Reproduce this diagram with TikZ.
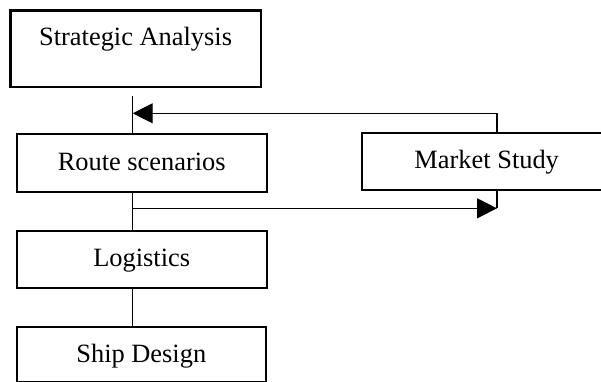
\documentclass[tikz,border=0pt]{standalone}
\usepackage{fontspec}
\setmainfont{Liberation Serif}
\usetikzlibrary{arrows.meta}

\begin{document}
\begin{tikzpicture}[x=1bp, y=-1bp,
  box/.style={draw, line width=2.2bp, rectangle, inner sep=0pt,
    minimum width=250bp, minimum height=57.3bp,
    text height=18bp, text depth=3bp,
    font=\fontsize{26.4bp}{30bp}\selectfont},
  link/.style={line width=1.2bp},
  flow/.style={link, -{Triangle[length=20bp, width=20bp]}}]
  \useasboundingbox (0,0) rectangle (601,381);
  \clip (0,0) rectangle (601,381);

  % process boxes
  \node[box, minimum width=250.2bp, minimum height=76.5bp, text depth=24bp]
    (strat) at (135.6,48.75) {Strategic Analysis};
  \node[box] (route)  at (141.7,163)    {Route scenarios};
  \node[box] (market) at (486.7,161.35) {Market Study};
  \node[box] (logi)   at (141.7,259.35) {Logistics};
  \node[box, minimum width=249bp, minimum height=55.6bp]
    (ship) at (141.3,354.5) {Ship Design};

  % spine and side loop reference points
  \coordinate (spine)  at (132.7,0);
  \coordinate (mx)     at (497,0);
  \coordinate (top)    at (132.7,96);
  \coordinate (fbin)   at (132.7,113.3);
  \coordinate (fbout)  at (132.7,208.3);

  % main chain
  \draw[link] (top) -- (spine |- route.north);
  \draw[link] (spine |- route.south) -- (spine |- logi.north);
  \draw[link] (spine |- logi.south) -- (spine |- ship.north);

  % loop through the market study
  \draw[flow] (fbout) -- (mx |- fbout);
  \draw[link] (mx |- fbout) -- (mx |- market.south);
  \draw[flow] (mx |- market.north) |- (fbin);
\end{tikzpicture}
\end{document}
